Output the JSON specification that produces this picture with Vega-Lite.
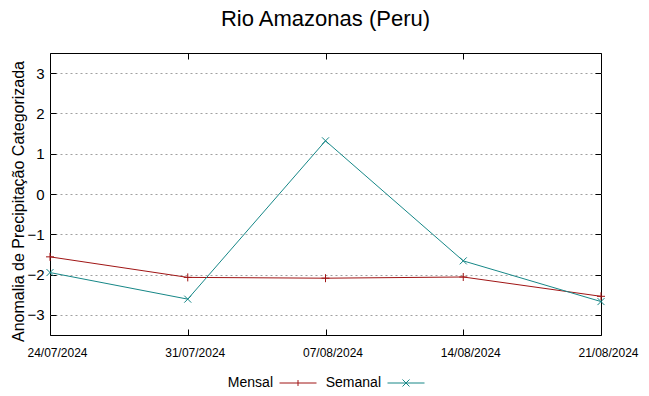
{
  "$schema": "https://vega.github.io/schema/vega-lite/v6.json",
  "width": 551,
  "height": 282,
  "autosize": "none",
  "padding": {"left": 50, "top": 53, "right": 48, "bottom": 61},
  "background": "white",
  "title": {"text": "Rio Amazonas (Peru)", "font": "Liberation Sans", "fontSize": 22, "fontWeight": "normal", "color": "black", "anchor": "middle", "offset": 22},
  "data": {"values": [
    {"data": "24/07/2024", "serie": "Mensal", "valor": -1.56},
    {"data": "31/07/2024", "serie": "Mensal", "valor": -2.07},
    {"data": "07/08/2024", "serie": "Mensal", "valor": -2.09},
    {"data": "14/08/2024", "serie": "Mensal", "valor": -2.06},
    {"data": "21/08/2024", "serie": "Mensal", "valor": -2.54},
    {"data": "24/07/2024", "serie": "Semanal", "valor": -1.95},
    {"data": "31/07/2024", "serie": "Semanal", "valor": -2.61},
    {"data": "07/08/2024", "serie": "Semanal", "valor": 1.32},
    {"data": "14/08/2024", "serie": "Semanal", "valor": -1.66},
    {"data": "21/08/2024", "serie": "Semanal", "valor": -2.67}
  ]},
  "config": {
    "view": {"stroke": "black", "strokeWidth": 1},
    "font": "Liberation Sans",
    "axis": {"domain": false, "tickColor": "black", "tickSize": -6, "labelColor": "black", "labelFont": "Liberation Sans", "titleFont": "Liberation Sans", "titleFontWeight": "normal", "titleColor": "black"}
  },
  "layer": [
    {
      "mark": {"type": "line", "strokeWidth": 1},
      "encoding": {
        "x": {"field": "data", "type": "ordinal", "sort": null, "scale": {"type": "point", "padding": 0},
              "axis": {"orient": "bottom", "title": null, "labelAngle": 0, "labelFontSize": 12, "labelPadding": 18, "labelOffset": 7, "grid": false}},
        "y": {"field": "valor", "type": "quantitative", "scale": {"domain": [-3.5, 3.5], "nice": false, "zero": false},
              "axis": {"orient": "left", "values": [-3, -2, -1, 0, 1, 2, 3], "title": "Anomalia de Precipitação Categorizada", "titleFontSize": 16, "titlePadding": 0, "titleY": 148, "labelFontSize": 15, "labelPadding": 12, "grid": true, "gridColor": "#a0a0a0", "gridDash": [2, 3], "gridWidth": 1}},
        "color": {"field": "serie", "type": "nominal", "scale": {"domain": ["Mensal", "Semanal"], "range": ["#a01515", "#168787"]},
                  "legend": {"orient": "none", "legendX": 229, "legendY": 311, "direction": "horizontal", "title": null, "labelFontSize": 14, "labelColor": "black", "labelAlign": "right", "labelOffset": -44, "symbolSize": 1369, "symbolStrokeWidth": 1, "columnPadding": 6,
                             "encode": {"symbols": {"update": {"shape": {"signal": "datum.value === 'Mensal' ? 'M-1,0H1M0,-0.16V0.16' : 'M-1,0H1M-0.19,-0.19L0.19,0.19M-0.19,0.19L0.19,-0.19'"}, "fill": {"value": "transparent"}}}}}}
      }
    },
    {
      "transform": [{"filter": "datum.serie === 'Mensal'"}],
      "mark": {"type": "point", "filled": false, "strokeWidth": 1, "opacity": 1, "color": "#a01515", "shape": "M-1,0H1M0,-1V1", "size": 64},
      "encoding": {
        "x": {"field": "data", "type": "ordinal", "sort": null, "scale": {"type": "point", "padding": 0},
              "axis": {"orient": "top", "title": null, "labels": false, "grid": false}},
        "y": {"field": "valor", "type": "quantitative", "scale": {"domain": [-3.5, 3.5], "nice": false, "zero": false},
              "axis": {"orient": "right", "values": [-3, -2, -1, 0, 1, 2, 3], "title": null, "labels": false, "grid": false}}
      }
    },
    {
      "transform": [{"filter": "datum.serie === 'Semanal'"}],
      "mark": {"type": "point", "filled": false, "strokeWidth": 1, "opacity": 1, "color": "#168787", "shape": "M-1,-1L1,1M-1,1L1,-1", "size": 49},
      "encoding": {
        "x": {"field": "data", "type": "ordinal", "sort": null, "scale": {"type": "point", "padding": 0}, "axis": null},
        "y": {"field": "valor", "type": "quantitative", "scale": {"domain": [-3.5, 3.5], "nice": false, "zero": false}, "axis": null}
      }
    }
  ],
  "resolve": {"axis": {"x": "independent", "y": "independent"}}
}
